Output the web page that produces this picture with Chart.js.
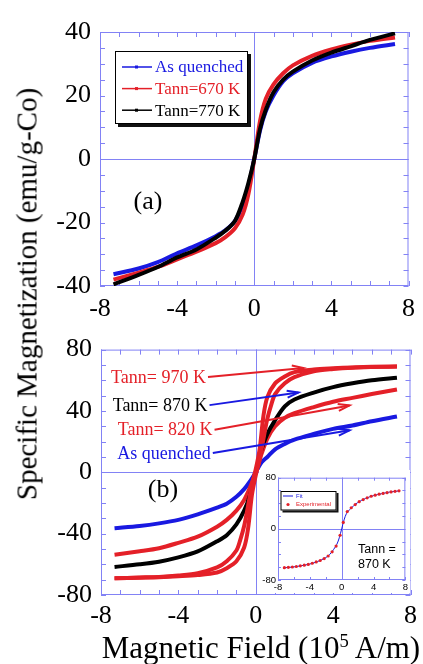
<!DOCTYPE html>
<html>
<head>
<meta charset="utf-8">
<title>Specific magnetization vs field</title>
<script src="https://cdn.jsdelivr.net/npm/chart.js@4.4.1/dist/chart.umd.min.js"></script>
<style>
    body { margin: 0; background: #fff; }
    #wrap { position: relative; width: 423px; height: 664px; overflow: hidden; }
    canvas { position: absolute; }
    #top { left: 0; top: 0; }
    #bottom { left: 0; top: 325px; }
    #inset { left: 259px; top: 470px; }
    #ytitle {
        position: absolute; left: 27px; top: 294px;
        transform: translate(-50%, -50%) rotate(-90deg);
        white-space: nowrap; font: 29px "Liberation Serif", serif; color: #000;
    }
    #xtitle {
        position: absolute; left: 261px; top: 648px;
        transform: translate(-50%, -50%);
        white-space: nowrap; font: 31px "Liberation Serif", serif; color: #000;
    }
    #xtitle span { font-size: 0.6em; position: relative; top: -0.6em; }
</style>
</head>
<body>
<div id="wrap">
    <canvas id="top" width="423" height="325"></canvas>
    <canvas id="bottom" width="423" height="339"></canvas>
    <canvas id="inset" width="151" height="123"></canvas>
    <div id="ytitle">Specific Magnetization (emu/g-Co)</div>
    <div id="xtitle">Magnetic Field (10<span>5</span> A/m)</div>
</div>
<script>
// ---- panel (a) ----
const fieldA = [-7.3, -6, -5, -4, -3, -2, -1.5, -1, -0.6, -0.3, 0, 0.3, 0.6, 1, 1.5, 2, 3, 4, 5, 6, 7.3];
const aQuenched = [-36.3, -34.5, -32.5, -29.7, -27.2, -24.3, -22.5, -19.5, -14.5, -8.5, 0, 9, 15, 20, 24.5, 27, 30.3, 32.3, 33.8, 35, 36.2];
const a670 = [-38, -35.8, -34, -31.6, -29.2, -26.5, -24.6, -21.8, -17.5, -11, 0, 12, 19, 23.5, 27, 29.5, 32.5, 34.5, 36, 37.2, 38.3];
const a770 = [-39.5, -36.5, -34, -31, -28.5, -24.8, -22.6, -19.5, -13.5, -7.5, 0, 9.5, 15.5, 21, 25, 27.5, 31, 33.5, 35.5, 37.5, 39.6];
const labelsA = ["As quenched", "Tann=670 K", "Tann=770 K"];

// ---- panel (b) ----
const fieldB = [-7.3, -6, -5, -4, -3, -2, -1.5, -1, -0.6, -0.3, 0, 0.3, 0.6, 1, 1.5, 2, 3, 4, 5, 6, 7.3];
const bQuenched = [-36.5, -35, -33.3, -31, -27.4, -23, -20.5, -16, -11, -6, 0, 6.5, 10, 15, 18.5, 21.3, 25, 28.3, 30.5, 33.3, 36.4];
const b820 = [-53.7, -51.5, -49.5, -46, -42, -35.5, -31, -25, -18, -10, 0, 12, 22, 30, 35.5, 38.5, 42.5, 46, 48.5, 51, 54];
const b870 = [-61.7, -60, -58.3, -55.5, -51.6, -45, -41, -34, -25, -15, 0, 15, 25, 34, 43, 47.5, 52, 55.5, 58, 60, 61.7];
// 970 K loop: increasing-field branch, then decreasing-field branch
const field970Up = [-7.3, -6, -5, -4, -3, -2, -1.5, -1, -0.6, -0.4, -0.2, 0, 0.2, 0.4, 0.6, 0.8, 1, 1.5, 2, 3, 4, 5, 6, 7.3];
const b970Up = [-69.1, -68.8, -68.4, -67.8, -67, -65.3, -62.5, -58, -49, -37, -15, -2, 8, 22, 35, 44, 51, 58, 62, 65.8, 67.3, 68.2, 68.6, 68.9];
const field970Down = [7.3, 6, 5, 4, 3, 2, 1.5, 1, 0.6, 0.4, 0.2, 0, -0.2, -0.4, -0.6, -0.8, -1, -1.5, -2, -3, -4, -5, -6, -7.3];
const b970Down = [68.9, 68.8, 68.4, 67.8, 67, 65.3, 62.5, 58, 49, 37, 15, 2, -8, -22, -35, -44, -51, -58, -62, -65.8, -67.3, -68.2, -68.6, -69.1];

// arrow annotations (start/end in field / magnetization units)
const noteText = ["Tann= 970 K", "Tann= 870 K", "Tann= 820 K", "As quenched"];
const noteStartH = [-2.47, -2.39, -2.13, -2.22];
const noteStartM = [62.1, 43.8, 27.8, 12.6];
const noteEndH = [2.47, 2.21, 4.85, 4.85];
const noteEndM = [68, 52, 43.6, 27.4];

// ---- inset (Tann = 870 K fit) ----
const fitH = [-7.3, -6, -5, -4, -3, -2, -1.5, -1, -0.6, -0.3, 0, 0.3, 0.6, 1, 1.5, 2, 3, 4, 5, 6, 7.3];
const fitM = [-61, -59.5, -57.5, -55, -51, -45, -40, -32, -24, -14, 0, 14, 24, 30, 36, 41, 47.5, 52, 55, 57.5, 59.5];
const expH = [-7.2, -6.7, -6.2, -5.7, -5.2, -4.7, -4.2, -3.7, -3.2, -2.7, -2.2, -1.7, -1.2, -0.7, -0.2, 0.2, 0.7, 1.2, 1.7, 2.2, 2.7, 3.2, 3.7, 4.2, 4.7, 5.2, 5.7, 6.2, 6.7, 7.2];
const expM = [-60.8, -60.2, -59.7, -58.9, -57.9, -56.8, -55.6, -53.8, -51.8, -49.5, -46.5, -42.5, -36, -27, -10, 10, 27, 33, 38, 42.5, 45.8, 48.5, 51, 52.6, 54.2, 55.4, 56.6, 57.8, 58.7, 59.5];

const BLUE = "rgb(25,25,225)";
const RED = "rgb(228,32,40)";
const BLACK = "#000";
const FRAME = "rgb(130,130,245)";
const SERIF = "Liberation Serif";
const SANS = "Liberation Sans";

function pts(xs, ys) {
    return xs.map(function(x, i) { return {x: x, y: ys[i]}; });
}

function curve(label, xs, ys, color, order) {
    return {label: label, data: pts(xs, ys), borderColor: color, backgroundColor: color,
        showLine: true, pointRadius: 0, borderWidth: 4, tension: 0.3, order: order};
}

// box, zero lines and inward tick marks on all four sides
const framePlugin = {
    id: "frame",
    beforeDatasetsDraw(chart, args, opts) {
        const ctx = chart.ctx, a = chart.chartArea, x = chart.scales.x, y = chart.scales.y;
        ctx.save();
        ctx.fillStyle = FRAME;
        ctx.fillRect(a.left, a.top, a.width, 1);
        ctx.fillRect(a.left, a.bottom - 1, a.width, 1);
        ctx.fillRect(a.left, a.top, 1, a.height);
        ctx.fillRect(a.right - 1, a.top, 1, a.height);
        ctx.fillRect(Math.round(x.getPixelForValue(0)), a.top, 1, a.height);
        ctx.fillRect(a.left, Math.round(y.getPixelForValue(0)), a.width, 1);
        for (let v = x.min; v <= x.max + 1e-9; v += opts.xStep) {
            const px = Math.round(x.getPixelForValue(v));
            ctx.fillRect(px, a.top, 1, opts.len);
            ctx.fillRect(px, a.bottom - opts.len, 1, opts.len);
        }
        for (let v = y.min; v <= y.max + 1e-9; v += opts.yStep) {
            const py = Math.round(y.getPixelForValue(v));
            ctx.fillRect(a.left, py, opts.len, 1);
            ctx.fillRect(a.right - opts.len, py, opts.len, 1);
        }
        ctx.restore();
    }
};

const bgPlugin = {
    id: "bg",
    beforeDraw(chart) {
        const ctx = chart.ctx;
        ctx.save();
        ctx.fillStyle = "#fff";
        ctx.fillRect(0, 0, chart.width, chart.height);
        ctx.restore();
    }
};

function shadowBox(ctx, x, y, w, h, off) {
    ctx.fillStyle = "#111";
    ctx.fillRect(x + off, y + off, w, h);
    ctx.fillStyle = "#fff";
    ctx.fillRect(x, y, w, h);
    ctx.strokeStyle = "#000";
    ctx.lineWidth = 1;
    ctx.strokeRect(x + 0.5, y + 0.5, w - 1, h - 1);
}

// legend for panel (a) and the panel letter
const legendA = {
    id: "legendA",
    afterDatasetsDraw(chart) {
        const ctx = chart.ctx;
        const sets = chart.data.datasets;
        ctx.save();
        shadowBox(ctx, 115, 51, 133, 73, 3);
        ctx.font = "17px '" + SERIF + "'";
        ctx.textBaseline = "middle";
        for (let i = 0; i < sets.length; i++) {
            const yy = 67 + i * 21.6;
            ctx.strokeStyle = sets[i].borderColor;
            ctx.lineWidth = 1.5;
            ctx.beginPath(); ctx.moveTo(122, yy); ctx.lineTo(152, yy); ctx.stroke();
            ctx.fillStyle = sets[i].borderColor;
            ctx.fillRect(135, yy - 1.5, 3, 3);
            ctx.fillText(sets[i].label, 155, yy + 1);
        }
        ctx.fillStyle = "#000";
        ctx.font = "26px '" + SERIF + "'";
        ctx.textAlign = "center";
        ctx.fillText("(a)", 148, 202);
        ctx.restore();
    }
};

function arrow(ctx, x0, y0, x1, y1, color) {
    ctx.strokeStyle = color;
    ctx.lineWidth = 2;
    ctx.beginPath(); ctx.moveTo(x0, y0); ctx.lineTo(x1, y1); ctx.stroke();
    const ang = Math.atan2(y1 - y0, x1 - x0), L = 12, w = 0.3;
    ctx.beginPath();
    ctx.moveTo(x1 - L * Math.cos(ang - w), y1 - L * Math.sin(ang - w));
    ctx.lineTo(x1, y1);
    ctx.lineTo(x1 - L * Math.cos(ang + w), y1 - L * Math.sin(ang + w));
    ctx.stroke();
}

const notesB = {
    id: "notesB",
    afterDatasetsDraw(chart) {
        const ctx = chart.ctx, x = chart.scales.x, y = chart.scales.y;
        const textCol = [RED, BLACK, RED, BLUE];
        const arrowCol = [RED, BLUE, RED, BLUE];
        ctx.save();
        ctx.font = "18px '" + SERIF + "'";
        ctx.textAlign = "right";
        ctx.textBaseline = "middle";
        for (let i = 0; i < noteText.length; i++) {
            const x0 = x.getPixelForValue(noteStartH[i]), y0 = y.getPixelForValue(noteStartM[i]);
            const x1 = x.getPixelForValue(noteEndH[i]), y1 = y.getPixelForValue(noteEndM[i]);
            arrow(ctx, x0, y0, x1, y1, arrowCol[i]);
            ctx.fillStyle = textCol[i];
            ctx.fillText(noteText[i], x0 - 2, y0 + 1);
        }
        ctx.fillStyle = "#000";
        ctx.font = "26px '" + SERIF + "'";
        ctx.textAlign = "center";
        ctx.fillText("(b)", 163, 165);
        ctx.restore();
    }
};

const insetNotes = {
    id: "insetNotes",
    afterDatasetsDraw(chart) {
        const ctx = chart.ctx;
        ctx.save();
        shadowBox(ctx, 21.5, 21, 56, 19.5, 2);
        ctx.font = "6px '" + SANS + "'";
        ctx.textBaseline = "middle";
        ctx.strokeStyle = BLUE; ctx.lineWidth = 1;
        ctx.beginPath(); ctx.moveTo(24, 26); ctx.lineTo(34, 26); ctx.stroke();
        ctx.fillStyle = BLUE;
        ctx.fillText("Fit", 37, 26);
        ctx.fillStyle = RED;
        ctx.beginPath(); ctx.arc(29, 34.5, 1.6, 0, Math.PI * 2); ctx.fill();
        ctx.fillText("Experimental", 37, 34.5);
        ctx.fillStyle = "#000";
        ctx.font = "12.5px '" + SANS + "'";
        ctx.fillText("Tann =", 99, 80);
        ctx.fillText("870 K", 99, 95);
        ctx.restore();
    }
};

const bigTicks = {font: {family: SERIF, size: 26}, color: "#000", maxRotation: 0, autoSkip: false};
const noGrid = {display: false, drawTicks: false};

new Chart(document.getElementById("top"), {
    type: "scatter",
    data: {
        datasets: [
            curve(labelsA[0], fieldA, aQuenched, BLUE, 3),
            curve(labelsA[1], fieldA, a670, RED, 2),
            curve(labelsA[2], fieldA, a770, BLACK, 1)
        ]
    },
    options: {
        responsive: false,
        animation: false,
        layout: {padding: {top: 32, right: 10, left: 0, bottom: 0}},
        plugins: {legend: {display: false}, tooltip: {enabled: false}, frame: {xStep: 1, yStep: 5, len: 5}},
        scales: {
            x: {type: "linear", min: -8, max: 8,
                ticks: Object.assign({stepSize: 4, padding: 8}, bigTicks),
                grid: noGrid, border: {display: false},
                afterFit: function(s) { s.height = 39; }},
            y: {type: "linear", min: -40, max: 40,
                ticks: Object.assign({stepSize: 20, padding: 9}, bigTicks),
                grid: noGrid, border: {display: false},
                afterFit: function(s) { s.width = 100; }}
        }
    },
    plugins: [framePlugin, legendA]
});

new Chart(document.getElementById("bottom"), {
    type: "scatter",
    data: {
        datasets: [
            curve("As quenched", fieldB, bQuenched, BLUE, 4),
            curve("Tann= 820 K", fieldB, b820, RED, 3),
            curve("Tann= 870 K", fieldB, b870, BLACK, 2),
            curve("Tann= 970 K", field970Up, b970Up, RED, 1),
            curve("Tann= 970 K", field970Down, b970Down, RED, 1)
        ]
    },
    options: {
        responsive: false,
        animation: false,
        layout: {padding: {top: 16, right: 9, left: 0, bottom: 0}},
        plugins: {legend: {display: false}, tooltip: {enabled: false}, frame: {xStep: 1, yStep: 10, len: 5}},
        scales: {
            x: {type: "linear", min: -8, max: 8,
                ticks: Object.assign({stepSize: 4, padding: 6}, bigTicks),
                grid: noGrid, border: {display: false},
                afterFit: function(s) { s.height = 69; }},
            y: {type: "linear", min: -80, max: 80,
                ticks: Object.assign({stepSize: 40, padding: 9}, bigTicks),
                grid: noGrid, border: {display: false},
                afterFit: function(s) { s.width = 101; }}
        }
    },
    plugins: [framePlugin, notesB]
});

const smallTicks = {font: {family: SANS, size: 9.5}, color: "#000", maxRotation: 0, autoSkip: false};

new Chart(document.getElementById("inset"), {
    type: "scatter",
    data: {
        datasets: [
            {label: "Experimental", data: pts(expH, expM), showLine: false, pointRadius: 1.6,
                pointBorderWidth: 0, backgroundColor: RED, borderColor: RED, order: 1},
            {label: "Fit", data: pts(fitH, fitM), showLine: true, pointRadius: 0, borderWidth: 1,
                borderColor: BLUE, tension: 0.3, order: 2}
        ]
    },
    options: {
        responsive: false,
        animation: false,
        layout: {padding: {top: 7, right: 4, left: 0, bottom: 0}},
        plugins: {legend: {display: false}, tooltip: {enabled: false}, frame: {xStep: 2, yStep: 20, len: 3}},
        scales: {
            x: {type: "linear", min: -8, max: 8,
                ticks: Object.assign({stepSize: 4, padding: 2}, smallTicks),
                grid: noGrid, border: {display: false},
                afterFit: function(s) { s.height = 13; }},
            y: {type: "linear", min: -80, max: 80,
                ticks: Object.assign({stepSize: 80, padding: 2}, smallTicks),
                grid: noGrid, border: {display: false},
                afterFit: function(s) { s.width = 19; }}
        }
    },
    plugins: [bgPlugin, framePlugin, insetNotes]
});
</script>
</body>
</html>
